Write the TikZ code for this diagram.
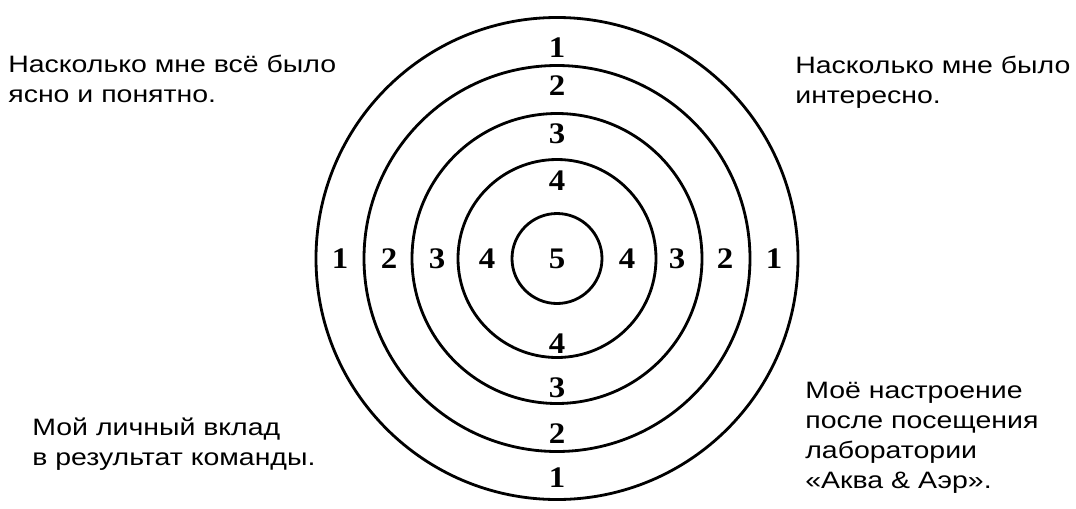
\documentclass[tikz,border=0pt]{standalone}
\usepackage{fontspec}
\setmainfont[FakeStretch=1.2]{Liberation Sans}
\newfontfamily\digitfont[FakeStretch=1.1]{Liberation Serif}
\usetikzlibrary{positioning,calc}
\tikzset{
  ring/.style={draw,line width=1.6pt},
  score/.style={font=\digitfont\bfseries\fontsize{17}{17}\selectfont,inner sep=0pt},
  note/.style={align=left,anchor=base west,inner sep=0pt,
    font=\fontsize{13.5}{17}\selectfont}
}

\begin{document}
\begin{tikzpicture}[x=0.02cm,y=-0.02cm]
  \useasboundingbox (0,0) rectangle (1076,508);
  \coordinate (c) at (557,258.5);
  % target rings
  \foreach \r in {45,99,145,193,241}
    \draw[ring] (c) circle[radius=\r];
  \node[score] (s5) at (c) {5};
  % ring scores: number/side/top/bottom offsets
  \foreach \n/\d/\t/\b in {4/70/78/85,3/120/125/129,2/168/173/175,1/217/211/219} {
    \node[score] (l\n) at ($(c)+(-\d,0)$) {\n};
    \node[score] (r\n) at ($(c)+(\d,0)$) {\n};
    \node[score] (t\n) at ($(c)+(0,-\t)$) {\n};
    \node[score] (b\n) at ($(c)+(0,\b)$) {\n};
  }
  % questions (anchored at the last line)
  \node[note] (clear) at (8,102) {Насколько мне всё было\\ясно и понятно.};
  \node[note] (interest) at (795,103) {Насколько мне было\\интересно.};
  \node[note] (contrib) at (32,465) {Мой личный вклад\\в результат команды.};
  \node[note] (mood) at (805,488) {Моё настроение\\после посещения\\лаборатории\\«Аква \& Аэр».};
\end{tikzpicture}
\end{document}
